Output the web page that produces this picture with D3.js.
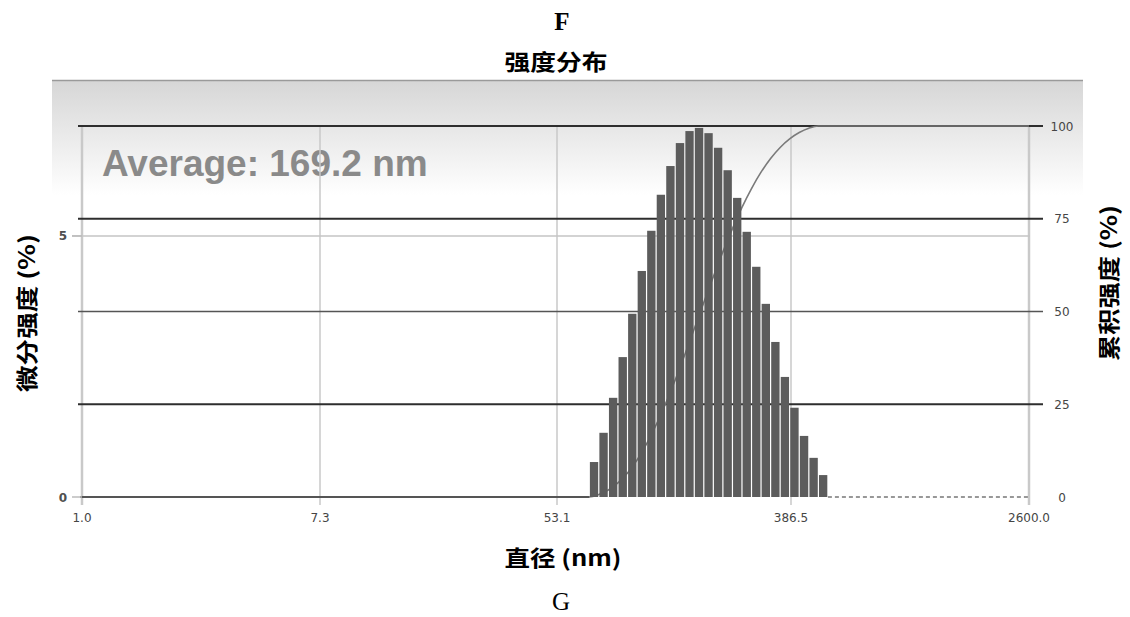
<!DOCTYPE html>
<html><head><meta charset="utf-8">
<script src="https://cdn.jsdelivr.net/npm/d3@7"></script>
<style>body{margin:0;background:#fff}svg{display:block}</style>
</head><body><svg id="c" width="1130" height="617"></svg>
<script>
// ---- data ----
const diameters = [72.7, 78.8, 85.5, 92.7, 100.6, 109.0, 118.2, 128.2, 138.9, 150.8, 163.4, 177.1, 192.1,
  208.2, 225.9, 244.9, 265.5, 287.9, 312.1, 338.6, 367.0, 397.2, 429.1, 463.3, 500.0];
const intensity = [0.67, 1.23, 1.90, 2.68, 3.51, 4.33, 5.10, 5.79, 6.34, 6.78, 7.01, 7.07, 6.97,
  6.69, 6.26, 5.73, 5.08, 4.41, 3.70, 2.97, 2.30, 1.71, 1.17, 0.75, 0.42];
const xTickValues = [1, 7.3, 53.1, 386.5, 2600];
const xTickLabels = ["1.0", "7.3", "53.1", "386.5", "2600.0"];
const leftTicks = [0, 5];
const rightTicks = [0, 25, 50, 75, 100];
const averageLabel = "Average: 169.2 nm";

const svg = d3.select("#c");
const plotTop = 126, plotBottom = 497;

const x = d3.scaleLog().domain(xTickValues).range([82, 320, 557, 791, 1029]);
const yL = d3.scaleLinear().domain([0, 7.107]).range([plotBottom, plotTop]);
const yR = d3.scaleLinear().domain([0, 100]).range([plotBottom, plotTop]);

// gradient header band
const defs = svg.append("defs");
const grad = defs.append("linearGradient").attr("id", "bg").attr("x1", 0).attr("y1", 0).attr("x2", 0).attr("y2", 1);
grad.append("stop").attr("offset", "0%").attr("stop-color", "#d6d6d6");
grad.append("stop").attr("offset", "100%").attr("stop-color", "#ffffff");
svg.append("rect").attr("x", 52).attr("y", 80).attr("width", 1031).attr("height", 115).attr("fill", "url(#bg)");
svg.append("line").attr("x1", 52).attr("x2", 1083).attr("y1", 80.5).attr("y2", 80.5).attr("stroke", "#9a9a9a").attr("stroke-width", 1.5);

// Average text
svg.append("text").attr("x", 102).attr("y", 176).text(averageLabel)
  .attr("font-family", "Liberation Sans, Arial, sans-serif").attr("font-weight", "bold")
  .attr("font-size", 37).attr("fill", "#8a8a8a");

// vertical grid lines
svg.append("g").selectAll("line").data(xTickValues).join("line")
  .attr("x1", d => x(d)).attr("x2", d => x(d)).attr("y1", plotTop).attr("y2", plotBottom + 8)
  .attr("stroke", "#c9c9c9").attr("stroke-width", (d, i) => (i === 0 || i === xTickValues.length - 1) ? 2.5 : 1.5);

// left gridline (5)
svg.append("g").selectAll("line").data(leftTicks.filter(d => d > 0)).join("line")
  .attr("x1", 72).attr("x2", 1030).attr("y1", d => yL(d)).attr("y2", d => yL(d))
  .attr("stroke", "#c4c4c4").attr("stroke-width", 1.5);

// right (cumulative) grid lines
svg.append("g").selectAll("line").data(rightTicks.filter(d => d > 0)).join("line")
  .attr("x1", 78).attr("x2", 1043).attr("y1", d => yR(d)).attr("y2", d => yR(d))
  .attr("stroke", d => d === 50 ? "#555" : "#2e2e2e").attr("stroke-width", d => d === 50 ? 1.5 : 2.2);

// bar geometry via scale
const cx = diameters.map(d => x(d));
const edges = [];
edges.push(cx[0] - (cx[1] - cx[0]) / 2);
for (let i = 0; i < cx.length - 1; i++) edges.push((cx[i] + cx[i + 1]) / 2);
edges.push(cx[cx.length - 1] + (cx[cx.length - 1] - cx[cx.length - 2]) / 2);

// cumulative curve
const cum = Array.from(d3.cumsum(intensity)).map(v => Math.min(100, v));
const cumPts = [[x(1), 0], [edges[0], 0]].concat(cum.map((v, i) => [edges[i + 1], v]));
cumPts.push([x(2600), 100]);
svg.append("path").datum(cumPts)
  .attr("d", d3.line().x(d => d[0]).y(d => yR(d[1])).curve(d3.curveMonotoneX))
  .attr("fill", "none").attr("stroke", "#7a7a7a").attr("stroke-width", 1.6);

// bars
svg.append("g").selectAll("rect").data(intensity).join("rect")
  .attr("x", (d, i) => edges[i] + 0.6)
  .attr("width", (d, i) => edges[i + 1] - edges[i] - 1.2)
  .attr("y", d => yL(d)).attr("height", d => plotBottom - yL(d))
  .attr("fill", "#5c5c5c");

// baseline
svg.append("line").attr("x1", 80).attr("x2", edges[0]).attr("y1", plotBottom).attr("y2", plotBottom)
  .attr("stroke", "#555").attr("stroke-width", 1.8);
svg.append("line").attr("x1", edges[edges.length - 1]).attr("x2", x(2600)).attr("y1", plotBottom).attr("y2", plotBottom)
  .attr("stroke", "#777").attr("stroke-width", 1.5).attr("stroke-dasharray", "4,3");

// left ticks
svg.append("g").selectAll("line").data(leftTicks).join("line")
  .attr("x1", 72).attr("x2", 82).attr("y1", d => yL(d)).attr("y2", d => yL(d))
  .attr("stroke", "#bbb").attr("stroke-width", 1.5);

const tickFont = "DejaVu Sans, sans-serif";
svg.append("g").selectAll("text").data(leftTicks).join("text")
  .attr("x", 63).attr("y", d => yL(d) + 4.5).attr("text-anchor", "middle")
  .attr("font-family", tickFont).attr("font-size", 12).attr("font-weight", "bold").attr("fill", "#505050")
  .text(d => d);

svg.append("g").selectAll("text").data(rightTicks).join("text")
  .attr("x", 1062).attr("y", d => yR(d) + 4.5).attr("text-anchor", "middle")
  .attr("font-family", tickFont).attr("font-size", 12).attr("fill", "#454545")
  .text(d => d);

svg.append("g").selectAll("text").data(xTickValues).join("text")
  .attr("x", d => x(d)).attr("y", 522).attr("text-anchor", "middle")
  .attr("font-family", tickFont).attr("font-size", 12).attr("fill", "#454545")
  .text((d, i) => xTickLabels[i]);

// titles
const cjk = "Noto Sans CJK SC, sans-serif";
svg.append("text").attr("x", 562).attr("y", 30).attr("text-anchor", "middle")
  .attr("font-family", "Liberation Serif, serif").attr("font-weight", "bold").attr("font-size", 25).text("F");
svg.append("text").attr("x", 556).attr("y", 70).attr("text-anchor", "middle")
  .attr("font-family", cjk).attr("font-weight", "bold").attr("font-size", 22)
  .attr("textLength", 103).attr("lengthAdjust", "spacingAndGlyphs").text("强度分布");
svg.append("text").attr("x", 563).attr("y", 566).attr("text-anchor", "middle")
  .attr("font-family", cjk).attr("font-weight", "bold").attr("font-size", 22)
  .attr("textLength", 117).attr("lengthAdjust", "spacingAndGlyphs").text("直径 (nm)");
svg.append("text").attr("x", 561).attr("y", 610).attr("text-anchor", "middle")
  .attr("font-family", "Liberation Serif, serif").attr("font-size", 25).text("G");

svg.append("text").attr("transform", "translate(35,313) rotate(-90)").attr("text-anchor", "middle")
  .attr("font-family", cjk).attr("font-weight", "bold").attr("font-size", 22)
  .attr("textLength", 158).attr("lengthAdjust", "spacingAndGlyphs").text("微分强度 (%)");
svg.append("text").attr("transform", "translate(1117,283) rotate(-90)").attr("text-anchor", "middle")
  .attr("font-family", cjk).attr("font-weight", "bold").attr("font-size", 22)
  .attr("textLength", 156).attr("lengthAdjust", "spacingAndGlyphs").text("累积强度 (%)");
</script></body></html>
